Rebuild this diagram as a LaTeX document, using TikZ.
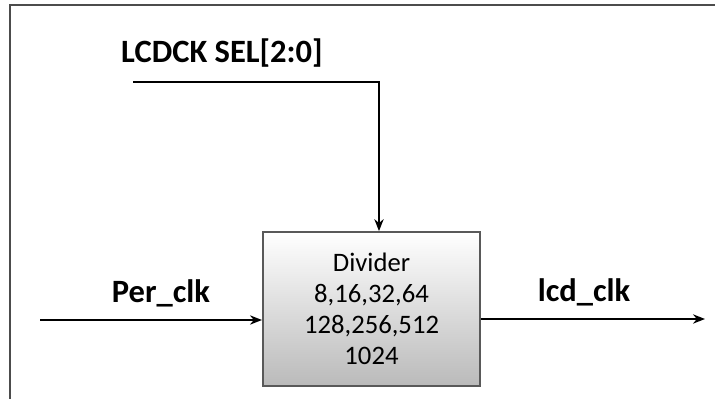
\documentclass[tikz,border=0pt]{standalone}
\usepackage{fontspec}
\setmainfont{Carlito}
\usetikzlibrary{positioning, arrows.meta}

\begin{document}
\begin{tikzpicture}[
    x=0.75pt, y=-0.75pt,
    sig/.style={font=\fontsize{24.4}{28}\selectfont\bfseries, anchor=base},
    wire/.style={-{Stealth[length=9pt,width=7pt]}, line width=1.1pt, black},
    block/.style={draw=black!65, line width=1.3pt, top color=white, middle color=white,
        bottom color=black!27, minimum width=163pt, minimum height=115.5pt,
        align=center, font=\fontsize{20}{23.25}\selectfont}
]
\useasboundingbox (0,0) rectangle (715,399);
% outer frame
\draw[black!70, line width=1pt] (715,5) -- (10,5) -- (10,399);
% divider block
\node[block] (divider) at (371.5,309) {Divider\\8,16,32,64\\128,256,512\\1024};
% select input
\node[sig] (sel) at (222,63) {LCDCK SEL[2:0]};
\coordinate (selstart) at (133,82);
\coordinate (selturn) at (379,82);
\draw[wire] (selstart) -- (selturn) -- (selturn |- divider.north);
% clock input
\node[sig] (perclk) at (161,303) {Per\_clk};
\coordinate (perin) at (40,320);
\draw[wire] (perin) -- (perin -| divider.west);
% clock output
\node[sig] (lcdclk) at (584,302) {lcd\_clk};
\coordinate (lcdout) at (705,319);
\draw[wire] (divider.east |- lcdout) -- (lcdout);
\end{tikzpicture}
\end{document}
